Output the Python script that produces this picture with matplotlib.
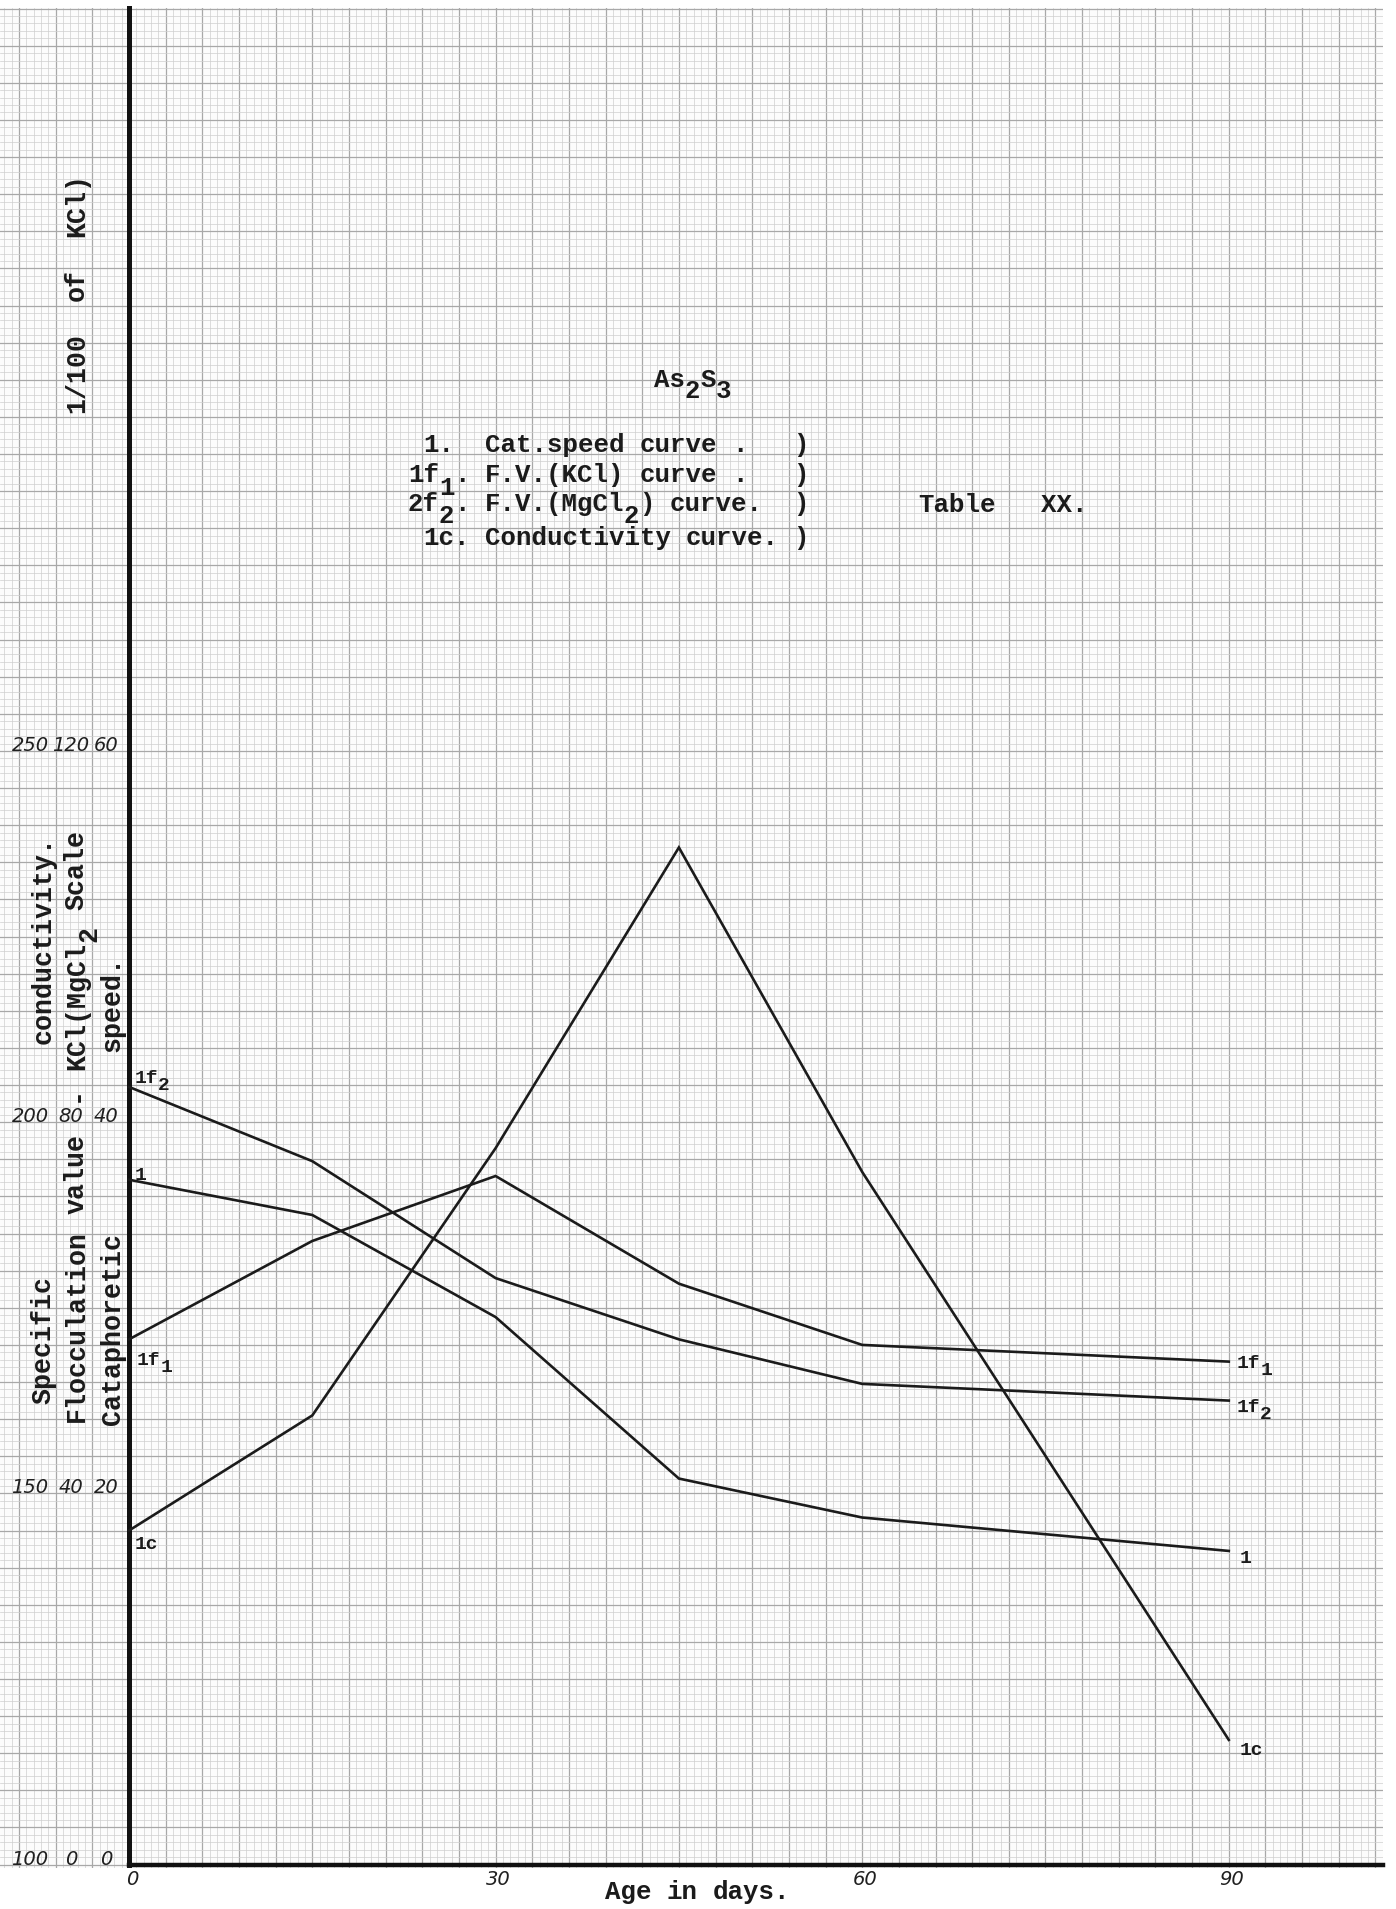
import matplotlib as mpl
mpl.use('Agg')
import matplotlib.pyplot as plt
from matplotlib.ticker import MultipleLocator

# values (As2S3, Table XX)
days = [0, 15, 30, 45, 60, 90]
cat_speed = [36.9, 35.0, 29.5, 20.8, 18.7, 16.9]           # curve 1
fv_kcl = [56.6, 67.2, 74.2, 62.6, 56.0, 54.2]              # curve 1f1
fv_mgcl2 = [83.8, 75.8, 63.2, 56.6, 51.8, 50.0]            # curve 1f2
conductivity = [145.0, 160.5, 196.5, 237.0, 193.3, 116.8]  # curve 1c

x_ticks = [0, 30, 60, 90]
speed_ticks = [0, 20, 40, 60]
floc_ticks = [0, 40, 80, 120]
cond_ticks = [100, 150, 200, 250]

legend_lines = [" 1.  Cat.speed curve .   )",
                "1f_1. F.V.(KCl) curve .   )",
                "2f_2. F.V.(MgCl_2) curve.  )",
                " 1c. Conductivity curve. )"]


# everything is drawn on the cataphoretic speed scale
def from_floc(v):
    return [a / 2.0 for a in v]


def from_cond(v):
    return [(a - 100) / 2.5 for a in v]


INK = '#1b1b1b'
MONO = 'Liberation Mono'
FS = 18.5
FS_V = 19.2

fig = plt.figure(figsize=(13.96, 19.09), dpi=100)
fig.patch.set_facecolor('white')
ax = fig.add_axes([0, 1 - 1868 / 1909, 1383 / 1396, (1868 - 8) / 1909])
ax.set_facecolor('#fcfcfc')
ax.set_xlim(-10.556, 102.62)
ax.set_ylim(-0.183, 100.03)

# graph paper
ax.xaxis.set_major_locator(MultipleLocator(3))
ax.xaxis.set_minor_locator(MultipleLocator(0.6))
ax.yaxis.set_major_locator(MultipleLocator(2))
ax.yaxis.set_minor_locator(MultipleLocator(0.4))
ax.grid(which='major', color='#a8a8a8', lw=0.9)
ax.grid(which='minor', color='#cfcfcf', lw=0.5)
ax.set_axisbelow(True)
ax.tick_params(which='both', length=0, labelbottom=False, labelleft=False)

for side in ['top', 'right']:
    ax.spines[side].set_visible(False)
ax.spines['left'].set_position(('data', 0))
ax.spines['bottom'].set_position(('data', 0))
ax.spines['left'].set_bounds(0, 100.03)
ax.spines['bottom'].set_bounds(0, 102.62)
ax.spines['left'].set_linewidth(3.6)
ax.spines['bottom'].set_linewidth(3.2)
ax.spines['left'].set_color('#111111')
ax.spines['bottom'].set_color('#111111')

# curves
for ys in [cat_speed, from_floc(fv_kcl), from_floc(fv_mgcl2), from_cond(conductivity)]:
    ax.plot(days, ys, color=INK, lw=1.9, solid_joinstyle='miter', zorder=3)


def typed(x, y, s, rot=0, fs=FS, drop=9.0, family=MONO, weight='bold', cw=0.6):
    # '_' types the next character half a line lower; words are placed one by one
    runs = []
    col = 0
    sub = False
    prev_space = True
    for c in s:
        if c == '_':
            sub = True
            continue
        if c == ' ':
            col += 1
            prev_space = True
            continue
        if runs and runs[-1][2] == sub and not prev_space:
            runs[-1][1] += c
        else:
            runs.append([col, c, sub])
        col += 1
        sub = False
        prev_space = False
    for start, txt, is_sub in runs:
        along = start * cw * fs
        d = drop if is_sub else 0
        off = (along, -d) if rot == 0 else (d, along)
        ax.annotate(txt, (x, y), xytext=off, textcoords='offset points',
                    rotation=rot, rotation_mode='anchor', ha='left',
                    va='baseline', fontsize=fs, family=family,
                    weight=weight, color=INK, annotation_clip=False)


# title, legend, table number
typed(42.96, 79.6, "As_2S_3", drop=7.5)
for line, yb in zip(legend_lines, [76.11, 74.49, 72.93, 71.10]):
    typed(22.83, yb, line)
typed(64.57, 72.88, "Table   XX.")
typed(38.95, -1.84, "Age in days.")

# axis titles (typed sideways)
typed(-6.40, 24.8, "Specific", rot=90, fs=FS_V)
typed(-6.40, 44.2, "conductivity.", rot=90, fs=FS_V)
typed(-3.70, 23.85, "Flocculation value  - KCl(MgCl_2 Scale", rot=90, fs=FS_V)
typed(-3.70, 78.2, "1/100  of  KCl)", rot=90, fs=FS_V)
typed(-0.77, 23.7, "Cataphoretic", rot=90, fs=FS_V)
typed(-0.77, 43.8, "speed.", rot=90, fs=FS_V)

# tick labels
tick_kw = dict(fontsize=14, style='italic', color='#202020', family='DejaVu Sans',
               ha='center', va='center', clip_on=False)
for t in x_ticks:
    ax.text(t + 0.25, -0.8, str(t), **tick_kw)
for s, f, c in zip(speed_ticks, floc_ticks, cond_ticks):
    ax.text(-8.1, s + 0.3, str(c), **tick_kw)
    ax.text(-4.75, s + 0.3, str(f), **tick_kw)
    ax.text(-1.85, s + 0.3, str(s), **tick_kw)

# curve labels at both ends
lab = dict(fs=14, drop=5.0, family=MONO, weight='bold', cw=0.6)
typed(0.49, 42.1, "1f_2", **lab)
typed(0.49, 36.9, "1", **lab)
typed(0.65, 26.9, "1f_1", **lab)
typed(0.49, 17.0, "1c", **lab)
typed(90.67, 26.75, "1f_1", **lab)
typed(90.67, 24.4, "1f_2", **lab)
typed(90.9, 16.25, "1", **lab)
typed(90.9, 5.9, "1c", **lab)

fig.savefig('out.png', dpi=100, facecolor=fig.get_facecolor())
